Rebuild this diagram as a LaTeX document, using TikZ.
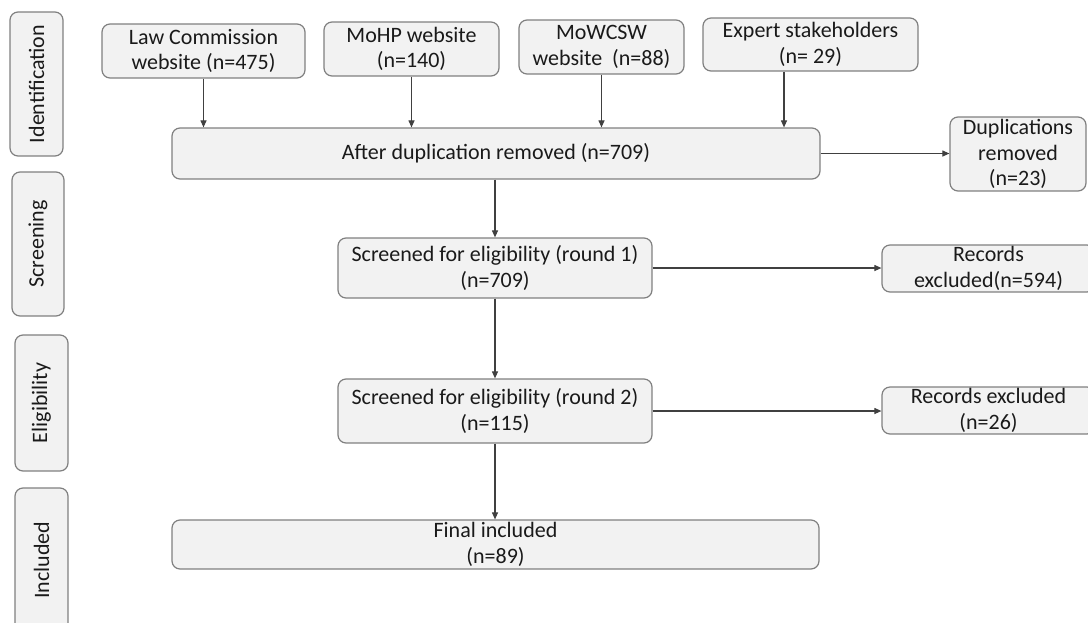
\documentclass[tikz,border=0pt]{standalone}
\usepackage{fontspec}
\setmainfont{Carlito}
\definecolor{BoxFill}{HTML}{F2F2F2}
\definecolor{BoxLine}{HTML}{808080}
\definecolor{ArrowLine}{HTML}{404040}
\definecolor{TextDark}{HTML}{1A1A1A}
\usetikzlibrary{arrows.meta}
\usetikzlibrary{positioning}
\begin{document}
\begin{tikzpicture}
	[x=1pt, y=-1pt,
	box/.style = {shape=rectangle, rounded corners=8pt, fill=BoxFill, draw=BoxLine,
		line width=1.2pt, align=center, text=TextDark, inner sep=0pt,
		font=\fontsize{22}{25.5}\selectfont},
	phase/.style = {box, rotate=90, minimum height=53pt},
	arr/.style = {draw=ArrowLine, line width=1.1pt, -{Triangle[length=7pt,width=6pt]}}]
	\useasboundingbox (0,0) rectangle (1088,622);
	% phases
	\node[phase, minimum width=144pt] (ident) at (36.5,84) {Identification};
	\node[phase, minimum width=144pt, minimum height=52pt] (screen) at (38,244) {Screening};
	\node[phase, minimum width=136pt] (elig) at (41.5,403) {Eligibility};
	\node[phase, minimum width=144pt] (incl) at (41.5,560) {Included};
	% sources
	\node[box, minimum width=203pt, minimum height=54pt] (law) at (203.5,51) {Law Commission\\website (n=475)};
	\node[box, minimum width=175pt, minimum height=54pt] (mohp) at (411.5,49) {MoHP website\\(n=140)};
	\node[box, minimum width=165pt, minimum height=54pt] (mowcsw) at (601.5,47) {MoWCSW\\website\ \ (n=88)};
	\node[box, minimum width=215pt, minimum height=53pt] (expert) at (810.5,44.5) {Expert stakeholders\\(n= 29)};
	% main flow
	\node[box, minimum width=648pt, minimum height=51pt] (dedup) at (496,153.5) {After duplication removed (n=709)};
	\node[box, minimum width=136pt, minimum height=74pt] (dupl) at (1018,154) {Duplications\\removed\\(n=23)};
	\node[box, minimum width=314pt, minimum height=60pt] (round1) at (495,268) {Screened for eligibility (round 1)\\(n=709)};
	\node[box, minimum width=213pt, minimum height=47pt] (excl1) at (988.5,268.5) {Records\\excluded(n=594)};
	\node[box, minimum width=314pt, minimum height=64pt] (round2) at (495,411) {Screened for eligibility (round 2)\\(n=115)};
	\node[box, minimum width=213pt, minimum height=47pt] (excl2) at (988.5,410.5) {Records excluded\\(n=26)};
	\node[box, minimum width=647pt, minimum height=49pt] (final) at (495.5,544.5) {Final included\\(n=89)};
	\coordinate (expertdrop) at (784,0);
	% connectors
	\draw[arr] (law.south) -- (law.south |- dedup.north);
	\draw[arr] (mohp.south) -- (mohp.south |- dedup.north);
	\draw[arr] (mowcsw.south) -- (mowcsw.south |- dedup.north);
	\draw[arr] (expertdrop |- expert.south) -- (expertdrop |- dedup.north);
	\draw[arr] (dedup.east) -- (dupl.west |- dedup.east);
	\draw[arr] (round1.north |- dedup.south) -- (round1.north);
	\draw[arr] (round1.east) -- (excl1.west |- round1.east);
	\draw[arr] (round1.south) -- (round2.north);
	\draw[arr] (round2.east) -- (excl2.west |- round2.east);
	\draw[arr] (round2.south) -- (round2.south |- final.north);
\end{tikzpicture}
\end{document}
